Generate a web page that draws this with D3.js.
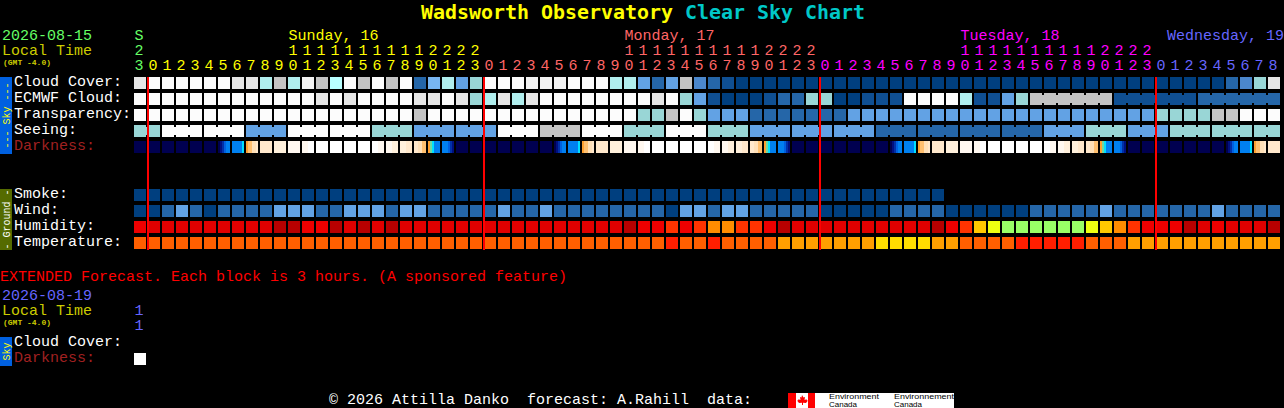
<!DOCTYPE html>
<html><head><meta charset="utf-8">
<style>html,body{margin:0;padding:0;background:#000;overflow:hidden}svg{display:block}text{white-space:pre;font-family:"Liberation Mono",monospace;font-size:15px}</style>
<script src="https://cdn.jsdelivr.net/npm/d3@7/dist/d3.min.js"></script>
</head><body><script>
const hourOnes = [3,0,1,2,3,4,5,6,7,8,9,0,1,2,3,4,5,6,7,8,9,0,1,2,3,0,1,2,3,4,5,6,7,8,9,0,1,2,3,4,5,6,7,8,9,0,1,2,3,0,1,2,3,4,5,6,7,8,9,0,1,2,3,4,5,6,7,8,9,0,1,2,3,0,1,2,3,4,5,6,7,8];
const hourTens = ["2","","","","","","","","","","","1","1","1","1","1","1","1","1","1","1","2","2","2","2","","","","","","","","","","","1","1","1","1","1","1","1","1","1","1","2","2","2","2","","","","","","","","","","","1","1","1","1","1","1","1","1","1","1","2","2","2","2","","","","","","","","",""];
const dayLabels = [["S",0,0],["Sunday, 16",11,1],["Monday, 17",35,2],["Tuesday, 18",59,3]];
const cloudCover = [8,10,10,10,10,10,10,8,8,6,7,6,9,7,11,10,7,10,7,10,2,12,6,4,5,10,10,10,9,9,9,10,10,10,6,6,4,2,4,7,3,2,1,0,0,0,0,0,0,0,0,0,0,0,0,0,0,0,0,0,0,0,0,0,0,0,0,0,0,0,0,0,0,0,0,0,0,0,2,3,5,8];
const ecmwfCloud = [10,10,10,10,10,10,10,10,10,10,10,10,10,8,10,8,10,10,10,10,8,8,10,8,5,6,8,6,8,10,10,10,10,10,10,10,10,8,10,5,4,1,0,0,0,1,2,2,5,5,0,0,1,1,1,10,10,10,10,6,1,1,4,5,7,7,7,7,7,7,1,1,1,1,1,1,2,2,2,2,2,2];
const transparency = [10,10,10,10,10,10,10,10,10,10,10,10,10,10,10,10,10,10,10,10,7,10,10,10,10,10,10,10,10,10,10,10,10,10,10,10,5,5,7,10,5,4,4,4,2,2,2,2,2,2,2,4,4,4,4,4,4,4,4,4,4,4,4,4,4,4,4,4,4,4,4,4,4,5,5,5,5,7,7,10,10,10];
const seeing = [5,5,10,10,10,10,10,10,4,4,4,10,10,10,10,10,10,5,5,5,4,4,4,4,4,4,10,10,10,7,7,7,10,10,10,5,5,5,10,10,10,5,5,5,4,4,4,4,4,4,4,4,4,2,2,2,2,2,2,2,2,2,2,2,2,4,4,4,5,5,5,4,4,4,5,5,5,5,5,5,5,5];
const darkness = ["000000","000000","000000","000000","000000","000000","012344","444445","78899a","aaaaaa","bbbbbb","cccccc","cccddd","dddddd","dddddd","dddddd","dddddd","dddccc","cccbbb","bbbaaa","aa9988","765444","444321","000000","000000","000000","000000","000000","000000","000000","012344","444445","78899a","aaaaaa","bbbbbb","cccccc","cccddd","dddddd","dddddd","dddddd","dddddd","dddccc","cccbbb","bbbaaa","aa9988","765444","444321","000000","000000","000000","000000","000000","000000","000000","012344","444445","78899a","aaaaaa","bbbbbb","cccccc","cccddd","dddddd","dddddd","dddddd","dddddd","dddccc","cccbbb","bbbaaa","aa9988","765444","444321","000000","000000","000000","000000","000000","000000","000000","012344","444445","78899a","aaaaaa"];
const smoke = [0,0,0,0,0,0,0,0,0,0,0,0,0,0,0,0,0,0,0,0,0,0,0,0,0,0,0,0,0,0,0,0,0,0,0,0,0,0,0,0,0,0,0,0,0,0,0,0,0,0,0,0,0,0,0,0,0,0];
const wind = [0,0,2,4,2,0,2,2,2,2,4,4,4,2,2,4,4,4,2,4,4,2,2,2,2,2,4,2,2,4,2,2,2,2,2,2,2,2,0,4,4,2,4,4,2,2,2,2,2,0,0,0,0,0,2,2,2,2,0,0,0,0,0,0,2,2,2,2,2,4,2,2,2,2,2,2,2,4,2,2,2,2];
const humidity = [2,1,1,1,1,1,1,1,1,1,0,0,2,2,0,1,0,1,0,1,1,1,1,1,1,1,1,1,1,1,1,1,1,1,1,0,2,2,3,2,3,4,4,3,3,2,0,1,1,1,1,1,1,1,1,1,1,0,2,3,5,6,7,7,7,7,7,7,6,5,4,3,2,2,2,0,1,2,1,1,1,0];
const temperature = [1,1,1,1,1,1,1,1,1,1,1,1,1,1,1,1,1,1,1,1,1,1,1,1,1,1,1,1,1,1,1,1,1,1,1,1,1,1,0,1,1,0,1,1,1,1,2,2,2,2,2,2,2,3,3,3,3,2,2,1,1,1,1,0,0,0,0,0,1,1,1,2,2,2,2,2,2,2,2,2,2,2];
const seeingRuns = [[0,1],[2,4],[5,7],[8,10],[11,13],[14,16],[17,19],[20,22],[23,25],[26,28],[29,31],[32,34],[35,37],[38,40],[41,43],[44,46],[47,49],[50,52],[53,55],[56,58],[59,61],[62,64],[65,67],[68,70],[71,73],[74,76],[77,79],[80,81]];
const ecmwfRuns = [[64,69],[70,75],[76,81]];
const dayStarts = [1,25,49,73];
const extDarkness = ["dddddd"];

const cloudColors = ["#003f7f","#0f4f92","#2566a8","#4b87cc","#62a2e4","#99d6d6","#b0eeee","#c4c4c4","#e6e6e6","#f2f2f2","#fcfcfc","#b8ffff","#78b6f2"];
const humidColors = ["#b80000","#e00000","#ee0000","#ff3300","#ff8c00","#ffc800","#eeff11","#99ff66"];
const tempColors = ["#ff1e00","#ff5f00","#ff9f00","#ffdd00"];
const darkColors = ["#000050","#001080","#0030a8","#0060e0","#0080f0","#00e0ff","#70d8a0","#ffa030","#ffc070","#ffe0b8","#ffe8cc","#fff0dc","#fff8f0","#ffffff"];
const dayColors = ["#66ff66","#ffff00","#ff6666","#ff00ff","#6666ff"];

const W=1284,H=408,PITCH=14,BLOCK=12,NCOL=82;
const x = d3.scaleLinear().domain([0,NCOL]).range([134,134+PITCH*NCOL]);
const yRow = d3.scaleOrdinal()
  .domain(["Cloud Cover:","ECMWF Cloud:","Transparency:","Seeing:","Darkness:","Smoke:","Wind:","Humidity:","Temperature:"])
  .range([77,93,109,125,141,189,205,221,237]);
const sub = d3.scaleLinear().domain([0,6]).range([0,BLOCK]);
const dayColor = d3.scaleThreshold().domain(dayStarts).range(dayColors);
const cloudScale = d3.scaleOrdinal().domain(d3.range(cloudColors.length)).range(cloudColors);
const humidScale = d3.scaleOrdinal().domain(d3.range(humidColors.length)).range(humidColors);
const tempScale = d3.scaleOrdinal().domain(d3.range(tempColors.length)).range(tempColors);
const darkScale = d3.scaleOrdinal().domain(d3.range(darkColors.length)).range(darkColors);

const svg = d3.select("body").append("svg").attr("width",W).attr("height",H);
svg.append("rect").attr("width",W).attr("height",H).attr("fill","#000");

function label(s,px,py,fill,opts={}){
  const t=svg.append("text").attr("x",px).attr("y",py).attr("fill",fill).text(s);
  if(opts.size)t.style("font-size",opts.size+"px");
  if(opts.weight)t.style("font-weight",opts.weight);
  if(opts.family)t.style("font-family",opts.family);
  if(opts.len)t.attr("textLength",opts.len).attr("lengthAdjust","spacingAndGlyphs");
  return t;
}
// title
label("Wadsworth Observatory",421,19,"#ffff00",{size:20,weight:"bold",family:"'DejaVu Sans Mono'",len:252});
label("Clear Sky Chart",685,19,"#00c8c8",{size:20,weight:"bold",family:"'DejaVu Sans Mono'",len:180});
// header
label("2026-08-15",2,40,"#66ff66");
label("Local Time",2,55,"#cccc00");
label("(GMT -4.0)",3,65,"#cccc00",{size:8,weight:"bold",len:48});
svg.selectAll(".day").data(dayLabels).join("text").attr("class","day")
  .attr("x",d=>x(d[1])+0.5).attr("y",40).attr("fill",d=>dayColors[d[2]]).text(d=>d[0]);
label("Wednesday, 19",1167,40,dayColors[4]);
svg.selectAll(".tens").data(hourTens).join("text").attr("class","tens")
  .attr("x",(d,i)=>x(i)+0.5).attr("y",55).attr("fill",(d,i)=>dayColor(i)).text(d=>d);
svg.selectAll(".ones").data(hourOnes).join("text").attr("class","ones")
  .attr("x",(d,i)=>x(i)+0.5).attr("y",70).attr("fill",(d,i)=>dayColor(i)).text(d=>d);
// row labels
[["Cloud Cover:",86],["ECMWF Cloud:",102],["Transparency:",118],["Seeing:",134],["Smoke:",198],["Wind:",214],["Humidity:",230],["Temperature:",246]]
 .forEach(d=>label(d[0],14,d[1],"#ffffff"));
label("Darkness:",14,150,"#a02020");

// blocks
function blocks(name,vals,scale){
  svg.append("g").selectAll("rect").data(vals).join("rect")
    .attr("x",(d,i)=>x(i)).attr("y",yRow(name)).attr("width",BLOCK).attr("height",BLOCK)
    .attr("fill",d=>scale(d));
}
function bridges(name,vals,scale,runs){
  const pairs=[];
  runs.forEach(r=>{for(let i=r[0];i<r[1];i++)pairs.push(i);});
  svg.append("g").selectAll("rect").data(pairs).join("rect")
    .attr("x",i=>x(i)+BLOCK).attr("y",yRow(name)+2).attr("width",PITCH-BLOCK).attr("height",BLOCK-4)
    .attr("fill",i=>scale(vals[i]));
}
blocks("Cloud Cover:",cloudCover,cloudScale);
blocks("ECMWF Cloud:",ecmwfCloud,cloudScale);
bridges("ECMWF Cloud:",ecmwfCloud,cloudScale,ecmwfRuns);
blocks("Transparency:",transparency,cloudScale);
blocks("Seeing:",seeing,cloudScale);
bridges("Seeing:",seeing,cloudScale,seeingRuns);
blocks("Smoke:",smoke,cloudScale);
blocks("Wind:",wind,cloudScale);
blocks("Humidity:",humidity,humidScale);
blocks("Temperature:",temperature,tempScale);
// darkness: each block is six vertical strips
const strips=[];
darkness.forEach((s,i)=>s.split("").forEach((c,j)=>strips.push({i,j,v:parseInt(c,16)})));
svg.append("g").selectAll("rect").data(strips).join("rect")
  .attr("x",d=>x(d.i)+sub(d.j)).attr("y",yRow("Darkness:")).attr("width",sub(1)).attr("height",BLOCK)
  .attr("fill",d=>darkScale(d.v));
// day separators
svg.append("g").selectAll("rect").data(dayStarts).join("rect")
  .attr("x",d=>x(d)-1).attr("y",77).attr("width",2).attr("height",173).attr("fill","#ff0000");

// side panels
function panel(y0,y1,fill,txt,col,len){
  svg.append("rect").attr("x",0).attr("y",y0).attr("width",12).attr("height",y1-y0).attr("fill",fill);
  const t=svg.append("text").attr("transform",`translate(9.5,${(y0+y1)/2}) rotate(-90)`).attr("text-anchor","middle")
    .attr("fill",col).style("font-size","10px").text(txt);
  if(len)t.attr("textLength",len).attr("lengthAdjust","spacingAndGlyphs");
}
panel(77,154,"#0060e0","--- Sky ---","#ffff00",66);
panel(189,250,"#556b00","- Ground -","#ffffff",60);
panel(337,366,"#0060e0","Sky","#ffff00",18);

// extended
label("EXTENDED Forecast. Each block is 3 hours. (A sponsored feature)",0,281,"#ff0000");
label("2026-08-19",2,300,"#6666ff");
label("Local Time",2,315,"#cccc00");
label("(GMT -4.0)",3,325,"#cccc00",{size:8,weight:"bold",len:48});
label("1",134.5,315,"#6666ff");
label("1",134.5,330,"#6666ff");
label("Cloud Cover:",14,346,"#ffffff");
label("Darkness:",14,362,"#a02020");
const extStrips=[];
extDarkness.forEach((s,i)=>s.split("").forEach((c,j)=>extStrips.push({i,j,v:parseInt(c,16)})));
svg.append("g").selectAll("rect").data(extStrips).join("rect")
  .attr("x",d=>x(d.i)+sub(d.j)).attr("y",353).attr("width",sub(1)).attr("height",BLOCK)
  .attr("fill",d=>darkScale(d.v));

// footer
label("\u00a9 2026 Attilla Danko  forecast: A.Rahill  data:",329,403.5,"#ffffff");
svg.append("rect").attr("x",788).attr("y",393).attr("width",166).attr("height",15).attr("fill","#fff");
svg.append("rect").attr("x",788).attr("y",393).attr("width",8).attr("height",15).attr("fill","#ff0000");
svg.append("rect").attr("x",808).attr("y",393).attr("width",7).attr("height",15).attr("fill","#ff0000");
svg.append("path").attr("fill","#ff0000")
  .attr("d","M802 395l1.5 2.5 1.5-.5-.5 3 2-.8.5 1.3 1 0-2 2.5-3-.3v2.3h-1v-2.3l-3 .3-2-2.5 1 0 .5-1.3 2 .8-.5-3 1.500.5z");
[[829,"Environment",50],[894,"Environnement",60]].forEach(d=>{
  label(d[1],d[0],398.5,"#000",{size:7,family:"'Liberation Sans'",len:d[2]});
  label("Canada",d[0],406.5,"#000",{size:7,family:"'Liberation Sans'",len:28});
});
</script></body></html>
